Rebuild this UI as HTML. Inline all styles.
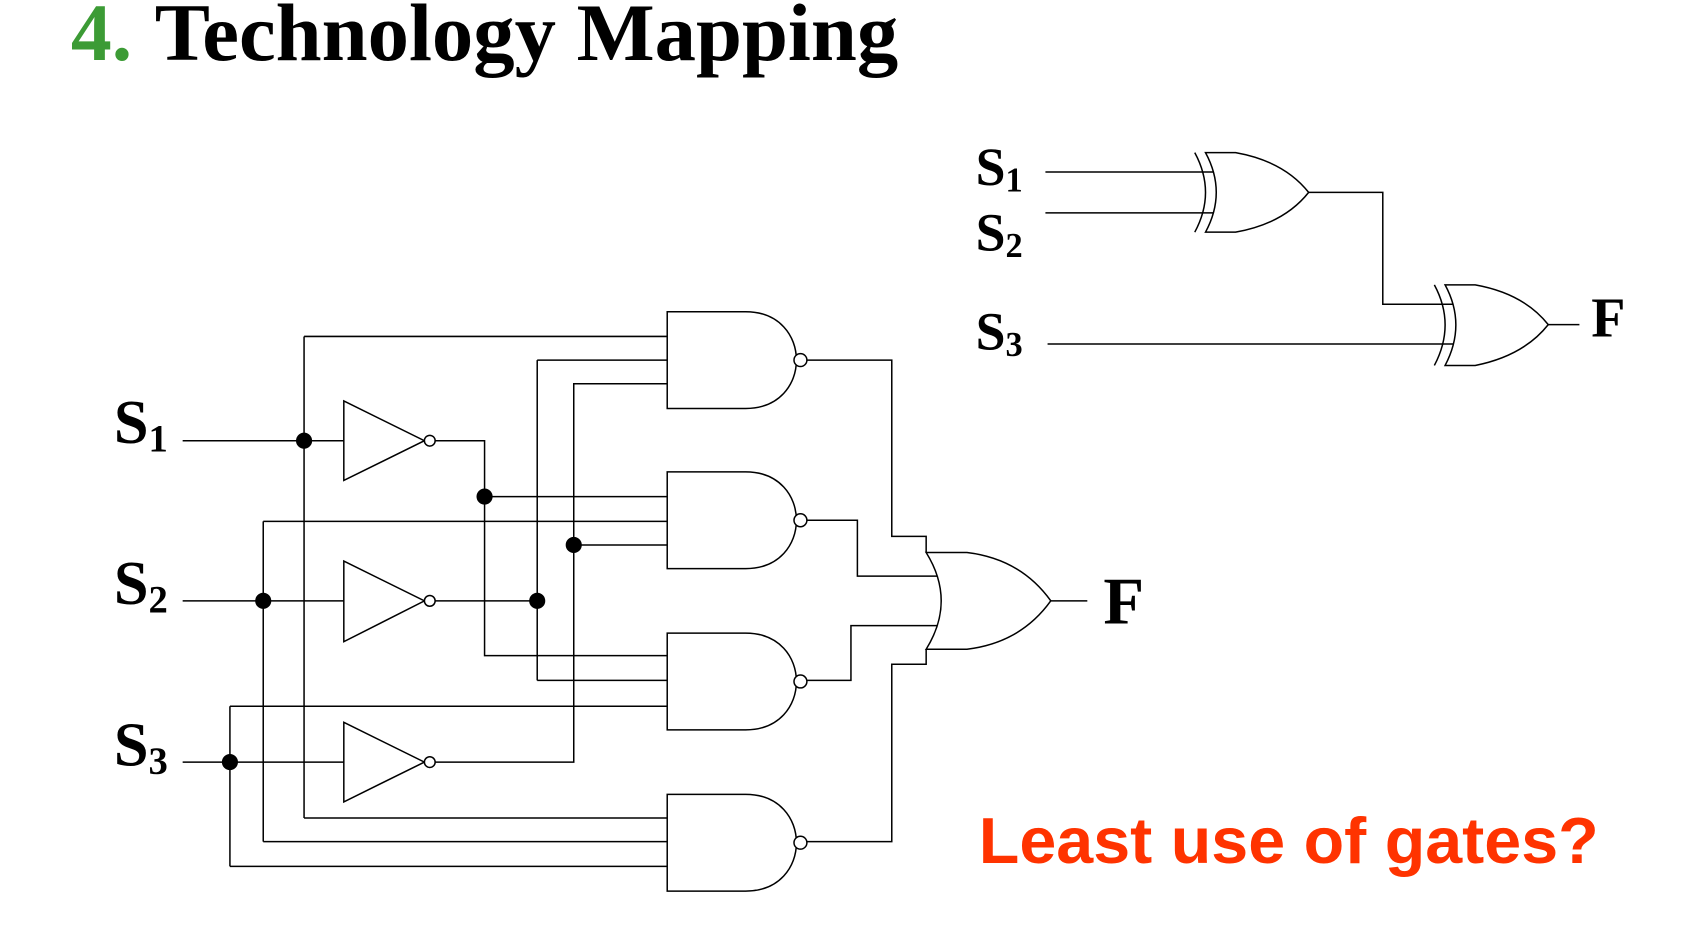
<!DOCTYPE html>
<html><head><meta charset="utf-8"><style>
html,body{margin:0;padding:0;background:#fff;width:1689px;height:933px;overflow:hidden}
svg{display:block}
.w{fill:none;stroke:#000;stroke-width:1.4}
.g{fill:#fff;stroke:#000;stroke-width:1.4}
.lbl{font-family:"Liberation Serif",serif;font-weight:bold;fill:#000}
</style></head><body>
<svg width="1689" height="933" viewBox="0 0 1572 868" preserveAspectRatio="none">
<text x="66" y="56" font-family="Liberation Serif,serif" font-weight="bold" font-size="76" fill="#3c9b35">4.</text>
<text x="144" y="56" font-family="Liberation Serif,serif" font-weight="bold" font-size="76" fill="#000" textLength="692" lengthAdjust="spacingAndGlyphs">Technology Mapping</text>

<text class="lbl" x="106" y="412" font-size="58">S<tspan font-size="36" dy="8">1</tspan></text>
<text class="lbl" x="106" y="562" font-size="58">S<tspan font-size="36" dy="8">2</tspan></text>
<text class="lbl" x="106" y="712" font-size="58">S<tspan font-size="36" dy="8">3</tspan></text>

<g class="w">
<path d="M170 410H320M170 559H320M170 709H320"/>
<path d="M405 410H451V610H621M451 462H621"/>
<path d="M405 559H500M500 335V633M500 335H621M500 633H621"/>
<path d="M405 709H534V357H621M534 507H621"/>
<path d="M283 313V761M283 313H621M283 761H621"/>
<path d="M245 485V783M245 485H621M245 783H621"/>
<path d="M214 657V806M214 657H621M214 806H621"/>
<path d="M751 335H830V499H862V514"/>
<path d="M751 484H798V536H875"/>
<path d="M751 633H792V582H875"/>
<path d="M751 783H830V618H862V604"/>
<path d="M978 559H1012"/>
</g>
<g class="g">
<path d="M320 373L395 410L320 447Z"/><circle cx="400" cy="410" r="5"/>
<path d="M320 522L395 559L320 597Z"/><circle cx="400" cy="559" r="5"/>
<path d="M320 672L395 709L320 746Z"/><circle cx="400" cy="709" r="5"/>
</g>
<g class="g">
<path d="M621 290H694C757 290 757 380 694 380H621Z"/><circle cx="745" cy="335" r="6"/>
<path d="M621 439H694C757 439 757 529 694 529H621Z"/><circle cx="745" cy="484" r="6"/>
<path d="M621 589H694C757 589 757 679 694 679H621Z"/><circle cx="745" cy="634" r="6"/>
<path d="M621 739H694C757 739 757 829 694 829H621Z"/><circle cx="745" cy="784" r="6"/>
<path d="M862 514H900Q950 520 978 559Q950 598 900 604H862Q890 559 862 514Z"/>
</g>
<g fill="#000">
<circle cx="283" cy="410" r="7.5"/><circle cx="451" cy="462" r="7.5"/><circle cx="534" cy="507" r="7.5"/>
<circle cx="245" cy="559" r="7.5"/><circle cx="500" cy="559" r="7.5"/><circle cx="214" cy="709" r="7.5"/>
</g>
<text class="lbl" x="1027" y="580" font-size="62">F</text>

<text class="lbl" x="908" y="172" font-size="50">S<tspan font-size="32" dy="6">1</tspan></text>
<text class="lbl" x="908" y="233" font-size="50">S<tspan font-size="32" dy="6">2</tspan></text>
<text class="lbl" x="908" y="325" font-size="50">S<tspan font-size="32" dy="6">3</tspan></text>
<g class="w" stroke-width="1.2">
<path d="M973 160H1130M973 198H1130"/>
<path d="M1122 142H1150Q1195 150 1218 179Q1195 208 1150 216H1122Q1142 179 1122 142Z" fill="#fff"/>
<path d="M1112 142Q1132 179 1112 216"/>
<path d="M1218 179H1287V283H1353M975 320H1353"/>
<path d="M1345 265H1373Q1418 273 1441 302Q1418 331 1373 340H1345Q1365 302 1345 265Z" fill="#fff"/>
<path d="M1335 265Q1355 302 1335 340"/>
<path d="M1441 302H1470"/>
</g>
<text class="lbl" x="1481" y="313" font-size="52">F</text>

<text x="911" y="803" font-family="Liberation Sans,sans-serif" font-weight="bold" font-size="60" fill="#ff3300" textLength="577" lengthAdjust="spacingAndGlyphs">Least use of gates?</text>
</svg>
</body></html>
